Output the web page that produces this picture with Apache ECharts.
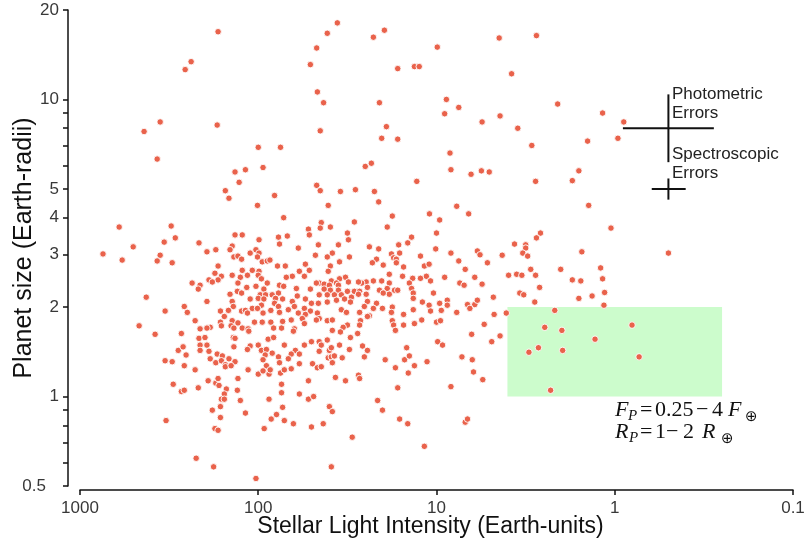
<!DOCTYPE html>
<html><head><meta charset="utf-8">
<script src="https://cdn.jsdelivr.net/npm/echarts@6/dist/echarts.min.js"></script>
<style>html,body{margin:0;padding:0;background:#fff}#c{width:807px;height:542px}</style>
</head><body><div id="c"></div>
<script>
// x: stellar light intensity (Earth units), y: planet radius (Earth radii)
const xTickValues = [1000, 100, 10, 1, 0.1];
const yTickLabels = [0.5, 1, 2, 3, 4, 5, 10, 20];
const yTickMarks = [0.5, 0.6, 0.7, 0.8, 0.9, 1, 2, 3, 4, 5, 6, 7, 8, 9, 10, 20];

// Planet candidates [intensity, radius]
const planetsUpper = [
[168,16.9],[238,13.4],[257,12.6],[355,8.4],[437,7.8],[170,8.2],[369,6.3],[100,6.9],[75,6.9],[135,5.7],
[118,5.8],[94,5.9],[36,18.1],[41,16.7],[47,14.9],[51,13.1],[22.6,16.2],[19.6,17.1],[9.9,15.0],[16.5,12.7],
[13.3,12.9],[12.5,12.9],[46.6,10.6],[43,9.75],[20.9,9.75],[44.9,7.84],[19.1,8.1],[20.3,7.4],[16.5,7.35],[8.8,10.0],
[7.5,9.4],[9.0,8.95],[5.55,8.4],[8.4,6.6],[25.1,5.95],[23.2,6.1],[8.3,5.8],[6.4,5.6],[5.6,5.75],[4.45,16.1],
[2.75,16.4],[3.79,12.2],[2.09,9.65],[4.4,8.8],[3.5,8.0],[2.92,7.0],[1.17,9.0],[0.89,8.4],[1.42,7.24],[0.96,7.4],
[5.06,5.7],[1.59,5.75],[1.05,3.69],[0.50,3.04],[1.20,2.71],[1.17,2.49],[1.14,2.24],[1.15,2.03],[0.80,1.74],[0.73,1.36]
];
const planetsLeftCore = [
[128,5.26],[153,4.93],[146,4.65],[81,4.75],[101,4.4],[72,4.0],[603,3.72],[308,3.75],[292,3.42],[337,3.31],
[503,3.19],[743,3.02],[580,2.88],[355,2.99],[369,2.86],[304,2.82],[215,3.29],[194,3.07],[173,3.12],[135,3.5],
[123,3.5],[99,3.37],[77,3.44],[140,3.21],[76,3.26],[144,3.12],[137,2.95],[130,2.97],[124,2.9],[111,3.04],
[103,3.12],[99,3.04],[101,2.95],[95,2.84],[89,2.86],[86,2.88],[78,2.75],[168,2.75],[175,2.6],[161,2.54],
[189,2.47],[168,2.47],[181,2.43],[140,2.56],[126,2.52],[123,2.66],[115,2.56],[108,2.66],[99,2.64],[100,2.56],
[96,2.49],[89,2.41],[93,2.3],[103,2.35],[116,2.33],[130,2.41],[76,2.37],[72,2.35],[235,2.41],[212,2.37],
[217,2.3],[144,2.21],[131,2.26],[124,2.23],[97.5,2.2],[91,2.2],[83.5,2.2],[77,2.23],[111,2.13],[100,2.14],
[93,2.13],[80,2.14],[73,2.13],[425,2.16],[194,2.09],[140,2.09],[138,2.01],[108,1.98],[96,2.03],[101,1.98],
[81,2.06],[77,2.01],[260,2.01],[250,1.92],[163,1.94],[147,1.95],[124,1.94],[118,1.95],[115,1.91],[94,1.91],
[85,1.95],[76,1.92],[333,1.94],[155,1.86],[226,1.8],[140,1.8],[130,1.77],[163,1.78],[161,1.73],[186,1.71],
[194,1.7],[212,1.69],[466,1.73],[142,1.73],[137,1.7],[123,1.7],[114,1.69],[105,1.78],[95,1.78],[85,1.78],
[82,1.7],[74,1.7],[73,1.79]
];
const planetsMidCore = [
[47,5.14],[44.9,4.93],[34.6,4.9],[28.5,4.97],[22.3,4.9],[12.9,5.3],[21.1,4.52],[40.5,4.4],[7.7,4.37],[6.6,4.12],
[10.95,4.12],[9.6,3.93],[17.7,4.05],[18.9,3.72],[28.9,3.87],[44.3,3.85],[44.9,3.69],[39.4,3.72],[52.3,3.66],[51.7,3.5],
[31.6,3.55],[31.2,3.37],[10,3.55],[13.8,3.44],[14.5,3.29],[16.3,3.24],[35.5,3.24],[46,3.24],[68.7,3.47],[59.6,3.16],
[23.8,3.19],[21.1,3.14],[10.1,3.14],[5.9,3.09],[5.7,3.0],[8.3,3.04],[38.4,3.04],[41,2.95],[47.8,2.99],[30.8,2.95],
[21.7,2.9],[17.9,3.02],[16.1,3.04],[17.4,2.93],[16.8,2.9],[12.3,2.97],[22.9,2.82],[19.9,2.77],[16.8,2.82],[15.3,2.73],
[11.7,2.75],[11.0,2.79],[7.5,2.86],[6.9,2.68],[54.4,2.79],[39.4,2.75],[35,2.84],[70.5,2.75],[58.8,2.64],[51.7,2.66],
[40.5,2.64],[64.4,2.54],[55.1,2.54],[69.6,2.52],[18.4,2.58],[11.4,2.54],[12.3,2.5],[13.6,2.5],[15.5,2.54],[9.0,2.52],
[6.1,2.52],[5.55,2.39],[7.4,2.41],[7.0,2.37],[10.8,2.45],[14.2,2.41],[18.4,2.41],[20.3,2.45],[22.6,2.45],[24.8,2.43],
[26.3,2.41],[27.4,2.43],[32.4,2.52],[35,2.49],[38.9,2.45],[36.4,2.41],[31.2,2.43],[45.5,2.41],[47.2,2.41],[42.7,2.39],
[39.9,2.37],[35.5,2.37],[28.9,2.26],[31.6,2.26],[35.5,2.28],[39.4,2.28],[42.7,2.3],[51,2.3],[61.1,2.31],[27,2.26],
[24.4,2.33],[20.9,2.28],[18.9,2.31],[17.2,2.28],[16.5,2.28],[13.8,2.31],[13.5,2.23],[13.5,2.14],[10.4,2.23],[18.4,2.21],
[19.9,2.23],[24.8,2.21],[27.4,2.21],[30,2.16],[34.2,2.2],[37.4,2.2],[41,2.2],[45.5,2.2],[54.4,2.13],[60.4,2.18],
[64.4,2.09],[50.3,2.06],[46,2.06],[41,2.08],[36.4,2.11],[32.8,2.13],[30.4,2.08],[24.4,2.09],[21.7,2.06],[25.4,2.01],
[22.6,1.98],[20.1,1.98],[17.7,2.0],[17.9,1.92],[15.3,1.89],[13.5,1.96],[12,2.08],[11,2.03],[9.6,2.06],[8.7,2.11],
[10.8,1.94],[9.4,1.95],[8.7,2.03],[7.7,1.92],[6.7,2.04],[6.1,2.04],[5.9,2.11],[6.5,1.98],[55.1,1.98],[67.8,1.96],
[62.7,2.01],[34.2,1.96],[32,1.92],[27,1.92],[23.8,1.87],[46.6,1.91],[51,1.94],[59.6,1.91],[54.4,1.89],[65.3,1.81],
[56.6,1.83],[55.1,1.76],[45.5,1.83],[47.2,1.81],[41,1.8],[38.4,1.81],[31.6,1.74],[33.4,1.71],[26.7,1.8],[27,1.74],
[24.4,1.86],[17.7,1.8],[17.4,1.74],[15.3,1.74],[13.3,1.76],[12.1,1.81],[10,1.78],[9.5,1.8],[5.4,1.75],[62.7,1.69],
[38.4,1.67],[17,1.67]
];
const planetsRight = [
[2.78,5.3],[1.73,5.33],[1.4,4.4],[2.61,3.55],[2.75,3.42],[3.65,3.26],[3.16,3.24],[3.16,3.16],[3.28,3.04],[3.08,2.97],
[4.28,2.99],[5.18,2.82],[1.53,3.07],[2.96,2.68],[2.01,2.68],[3.94,2.56],[3.55,2.58],[3.32,2.56],[2.78,2.56],[1.73,2.47],
[1.55,2.45],[2.64,2.33],[3.41,2.23],[3.24,2.2],[4.8,2.16],[1.59,2.14],[1.34,2.18],[2.81,2.08],[4.75,1.89],[4.06,1.91],
[2.17,1.95],[2.47,1.71],[1.98,1.67],[4.4,1.6],[4.9,1.53],[1.29,1.56],[2.68,1.46],[3.03,1.41],[1.96,1.43],[2.29,1.05]
];
const planetsSmall = [
[379,1.62],[270,1.63],[215,1.57],[199,1.58],[212,1.49],[194,1.49],[138,1.58],[135,1.57],[113,1.66],[281,1.43],
[264,1.47],[254,1.38],[333,1.32],[304,1.31],[260,1.27],[226,1.23],[212,1.43],[189,1.42],[186,1.34],[170,1.39],
[159,1.37],[173,1.3],[161,1.32],[153,1.28],[153,1.26],[146,1.34],[135,1.31],[142,1.27],[137,1.47],[111,1.48],
[115,1.44],[100,1.49],[96,1.43],[90,1.44],[83.5,1.4],[88,1.56],[82,1.58],[71.4,1.49],[91.4,1.38],[94,1.33],
[90,1.27],[77,1.36],[76,1.3],[114,1.23],[100,1.19],[94,1.22],[87,1.19],[85.7,1.23],[75,1.2],[71.4,1.23],
[300,1.1],[270,1.04],[260,1.05],[217,1.07],[191,1.13],[173,1.11],[168,1.15],[166,1.09],[130,1.15],[131,1.05],
[151,1.06],[155,1.02],[161,0.98],[155,0.98],[126,0.97],[74,1.1],[74,1.03],[87,0.98],[73,0.92],[79,0.87],
[84.6,0.84],[71.4,0.83],[181,0.9],[163,0.925],[118,0.88],[163,0.85],[329,0.83],[175,0.78],[168,0.77],[92.6,0.78],
[223,0.62],[178,0.58],[103,0.53],
[63.5,1.66],[34.6,1.65],[27.7,1.63],[30.4,1.58],[41,1.55],[45.5,1.53],[44.3,1.49],[50.3,1.53],[55.1,1.49],[61.9,1.43],
[58.8,1.39],[65.3,1.39],[67.8,1.34],[45.5,1.42],[39.9,1.43],[38.9,1.46],[35,1.49],[30.8,1.44],[26,1.48],[24.4,1.43],
[25.4,1.36],[33.8,1.35],[40.5,1.35],[38.9,1.36],[37.4,1.37],[38.4,1.3],[49.6,1.29],[46.6,1.25],[44.3,1.26],[58.8,1.29],
[65.3,1.24],[36.9,1.16],[32.4,1.13],[27.4,1.18],[27,1.15],[52.3,1.13],[58.8,1.02],[52.3,0.98],[48.9,1.0],[39.9,0.925],
[38.4,0.89],[63.5,0.81],[50.3,0.79],[43.2,0.81],[29.7,0.73],[38.9,0.58],[19.4,1.33],[17,1.25],[16.5,1.07],[15.1,1.33],
[14.7,1.46],[14.2,1.37],[14.4,1.2],[13.3,1.27],[11.3,1.31],[9.85,1.53],[9.25,1.49],[21.4,0.97],[20.1,0.9],[16.1,0.84],
[14.5,0.81],[11.7,0.68],[8.3,1.08],[7.2,1.36],[6.3,1.33],[6.2,1.21],[6.35,1.62],[5.5,1.14],[6.9,0.82],[6.7,0.84]
];
const planets = [].concat(planetsUpper, planetsLeftCore, planetsMidCore, planetsRight, planetsSmall);

// Target box: F = 0.25-4, R = 1-2
const boxFlux = [4, 0.25];
const boxRadius = [1, 2];

// Error bars [x1, y1, x2, y2]
const photometricErr = [[0.9, 8.0, 0.278, 8.0], [0.5, 10.4, 0.5, 6.15]];
const spectroscopicErr = [[0.62, 5.0, 0.40, 5.0], [0.5, 5.42, 0.5, 4.6]];

const fmt = v => String(Number(v.toPrecision(6)));
const sans = 'Liberation Sans, Arial, sans-serif';
const serif = 'Liberation Serif, Times New Roman, serif';

function mathText(x, y, text, style) {
  return {type: 'text', x: x, y: y, silent: true,
          style: Object.assign({text: text, fill: '#111', verticalAlign: 'middle'}, style)};
}
const big = {font: '22px ' + serif};
const bigIt = {font: 'italic 22px ' + serif};
const subIt = {font: 'italic 15px ' + serif};
const subOp = {font: '15px DejaVu Sans'};

const chart = echarts.init(document.getElementById('c'), null, {renderer: 'canvas'});
chart.setOption({
  animation: false,
  backgroundColor: '#fff',
  grid: {left: 80, right: 14, top: 10, bottom: 56, containLabel: false, outerBoundsMode: 'none'},
  xAxis: {
    type: 'log', logBase: 10, min: 0.1, max: 1000, inverse: true,
    offset: 4,
    name: 'Stellar Light Intensity (Earth-units)', nameLocation: 'middle', nameGap: 25, nameMoveOverlap: false,
    nameTextStyle: {fontFamily: sans, fontSize: 23, color: '#111', padding: [0, 12, 0, 0]},
    axisLine: {show: true, lineStyle: {color: '#111', width: 1.5}},
    axisTick: {show: true, length: 5, lineStyle: {color: '#111', width: 1.5}, customValues: xTickValues},
    axisLabel: {fontFamily: sans, fontSize: 17, color: '#383838', margin: 10, formatter: fmt, customValues: xTickValues},
    splitLine: {show: false}, minorTick: {show: false}
  },
  yAxis: {
    type: 'log', logBase: 10, min: 0.5, max: 20,
    offset: 12,
    name: 'Planet size (Earth-radii)', nameLocation: 'middle', nameGap: 31, nameMoveOverlap: false,
    nameTextStyle: {fontFamily: sans, fontSize: 25, color: '#111'},
    axisLine: {show: true, lineStyle: {color: '#111', width: 1.5}},
    axisTick: {show: true, length: 5, lineStyle: {color: '#111', width: 1.5}, customValues: yTickMarks},
    axisLabel: {
      fontFamily: sans, fontSize: 17, color: '#383838', margin: 9, customValues: yTickLabels,
      formatter: v => (Math.abs(v - 0.5) < 1e-9 ? '{p|0.5}' : fmt(v)),
      rich: {p: {fontFamily: sans, fontSize: 17, color: '#383838', padding: [0, 13, 0, 0]}}
    },
    splitLine: {show: false}, minorTick: {show: false}
  },
  series: [
    {
      type: 'scatter', data: planets, symbol: 'circle', symbolSize: 6.5, z: 3,
      itemStyle: {color: '#e9624b', borderColor: '#fff', borderWidth: 0.9, opacity: 1},
      markArea: {
        silent: true, z: 1,
        itemStyle: {color: '#ccfccc', opacity: 1},
        data: [[{xAxis: boxFlux[0], yAxis: boxRadius[0]}, {xAxis: boxFlux[1], yAxis: boxRadius[1]}]]
      }
    },
    {
      type: 'custom', z: 4, silent: true,
      data: photometricErr.concat(spectroscopicErr),
      encode: {x: [0, 2], y: [1, 3]},
      renderItem: (params, api) => {
        const p1 = api.coord([api.value(0), api.value(1)]);
        const p2 = api.coord([api.value(2), api.value(3)]);
        return {type: 'line', shape: {x1: p1[0], y1: p1[1], x2: p2[0], y2: p2[1]},
                style: {stroke: '#111', lineWidth: 2}};
      }
    }
  ],
  graphic: [
    {type: 'text', left: 672, top: 85, style: {text: 'Photometric\nErrors', fontFamily: sans, fontSize: 17, lineHeight: 19, fill: '#222'}},
    {type: 'text', left: 672, top: 145, style: {text: 'Spectroscopic\nErrors', fontFamily: sans, fontSize: 17, lineHeight: 19, fill: '#222'}},
    // Line 1: F_P = 0.25-4 F_⊕
    mathText(615, 410, 'F', bigIt),
    mathText(628, 416, 'P', subIt),
    mathText(640, 410, '=', big),
    mathText(655, 410, '0.25', big),
    mathText(696, 410, '\u2212', big),
    mathText(712, 410, '4', big),
    mathText(728, 410, 'F', bigIt),
    mathText(745, 417, '\u2295', subOp),
    // Line 2: R_P = 1-2 R_⊕
    mathText(615, 432, 'R', bigIt),
    mathText(629, 438, 'P', subIt),
    mathText(640, 432, '=', big),
    mathText(655, 432, '1', big),
    mathText(666, 432, '\u2212', big),
    mathText(683, 432, '2', big),
    mathText(702, 432, 'R', bigIt),
    mathText(721, 439, '\u2295', subOp)
  ]
});
</script>
</body></html>
